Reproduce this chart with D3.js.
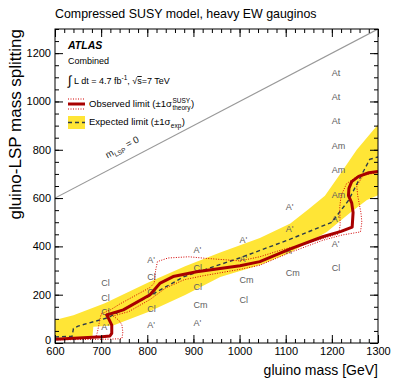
<!DOCTYPE html>
<html>
<head>
<meta charset="utf-8">
<script src="https://cdn.jsdelivr.net/npm/d3@7"></script>
<style>
body { margin: 0; background: #fff; }
svg text { font-family: "Liberation Sans", Arial, Helvetica, sans-serif; }
</style>
</head>
<body>
<div id="chart"></div>
<script>
// ---- data (gluino mass [GeV], mass splitting [GeV]) ----
const obsMass  = [600, 702, 719, 723, 723, 716, 712, 748, 806, 828, 856, 907, 1001, 1044, 1110, 1180, 1220, 1244, 1246, 1243, 1236, 1237, 1243, 1258, 1280, 1300]
const obsSplit = [15, 26, 29, 40, 74, 102, 116, 137, 200, 248, 275, 295, 320, 337, 390, 440, 462, 480, 540, 580, 610, 640, 668, 690, 705, 710]

const obsUpMass  = [600, 720, 745, 747, 745, 738, 726, 760, 806, 840, 880, 920, 1001, 1044, 1110, 1180, 1222, 1262, 1265, 1263, 1256, 1254, 1268, 1300]
const obsUpSplit = [13, 16, 18, 45, 75, 95, 112, 130, 180, 228, 262, 278, 305, 322, 375, 425, 447, 460, 500, 540, 610, 650, 695, 713]

const obsDnMass  = [600, 688, 692, 696, 700, 720, 741, 806, 815, 818, 822, 845, 890, 930, 1001, 1044, 1090, 1131, 1180, 1215, 1218, 1217, 1220, 1232, 1255, 1300]
const obsDnSplit = [18, 22, 45, 85, 120, 137, 162, 230, 248, 300, 337, 352, 357, 350, 340, 357, 385, 405, 432, 452, 490, 560, 610, 660, 690, 706]

const expMass  = [600, 637, 640, 650, 715, 800, 880, 1000, 1110, 1200, 1236, 1260, 1282, 1300]
const expSplit = [25, 28, 60, 70, 105, 190, 275, 352, 430, 500, 590, 680, 760, 770]

const bandUpMass  = [600, 640, 708, 802, 882, 958, 1044, 1110, 1150, 1185, 1218, 1254, 1300]
const bandUpSplit = [95, 115, 165, 250, 318, 375, 435, 495, 555, 610, 700, 800, 905]
const bandLoMass  = [600, 681, 683, 726, 802, 882, 958, 1044, 1110, 1189, 1239, 1276, 1300]
const bandLoSplit = [22, 22, 67, 72, 128, 199, 273, 323, 375, 460, 538, 592, 612]

// signal-region labels
const srText  = ["Cl", "Cl", "Cl", "A'",
                 "A'", "Cl", "Cl", "Cl", "A'",
                 "A'", "Cl", "Cl", "Cm", "A'",
                 "A'", "A'", "Cm", "Cl",
                 "A'", "A'", "A'", "Cm",
                 "At", "At", "At", "Am", "Am", "Am", "A'", "A'", "Cl"]
const srMass  = [700, 700, 700, 700,
                 800, 800, 800, 800, 800,
                 900, 900, 900, 900, 900,
                 1000, 1000, 1000, 1000,
                 1100, 1100, 1100, 1100,
                 1200, 1200, 1200, 1200, 1200, 1200, 1200, 1200, 1200]
const srSplit = [247, 187, 130, 66,
                 343, 274, 212, 140, 74,
                 385, 313, 233, 157, 83,
                 429, 347, 261, 178,
                 565, 471, 381, 289,
                 1120, 1020, 920, 815, 715, 615, 515, 410, 310]

const xMajor = [600, 700, 800, 900, 1000, 1100, 1200, 1300]
const yMajor = [0, 200, 400, 600, 800, 1000, 1200]
const xMinor = d3.range(600, 1301, 20)
const yMinor = d3.range(0, 1301, 50)

// ---- layout ----
const width = 399, height = 379
const plotL = 55, plotR = 378, plotT = 29, plotB = 343

const svg = d3.select("#chart").append("svg")
    .attr("width", width)
    .attr("height", height)

const x = d3.scaleLinear().domain([600, 1300]).range([plotL, plotR])
const y = d3.scaleLinear().domain([0, 1300]).range([plotB, plotT])

svg.append("clipPath").attr("id", "plot-clip")
  .append("rect")
    .attr("x", plotL).attr("y", plotT)
    .attr("width", plotR - plotL).attr("height", plotB - plotT)

const plot = svg.append("g").attr("clip-path", "url(#plot-clip)")

const pts = (ms, ss) => ms.map((m, i) => [m, ss[i]])
const line = d3.line().x(d => x(d[0])).y(d => y(d[1]))
const area = d3.line().x(d => x(d[0])).y(d => y(d[1])).curve(d3.curveLinearClosed)

// yellow band
const bandPts = pts(bandUpMass, bandUpSplit).concat(pts(bandLoMass, bandLoSplit).reverse())
plot.append("path")
    .datum(bandPts)
    .attr("fill", "#ffe536")
    .attr("stroke", "none")
    .attr("d", area)

// diagonal mLSP = 0
plot.append("path")
    .datum([[600, 600], [1300, 1300]])
    .attr("fill", "none")
    .attr("stroke", "#999")
    .attr("stroke-width", 1.2)
    .attr("d", line)

// signal region labels
plot.selectAll(".sr")
  .data(srText)
  .enter().append("text")
    .attr("class", "sr")
    .attr("x", (d, i) => x(srMass[i]))
    .attr("y", (d, i) => y(srSplit[i]))
    .attr("dy", "0.35em")
    .attr("font-size", 9)
    .attr("fill", "#5e5e5e")
    .text(d => d)

// expected
plot.append("path")
    .datum(pts(expMass, expSplit))
    .attr("fill", "none")
    .attr("stroke", "#2b3a4a")
    .attr("stroke-width", 1.4)
    .attr("stroke-dasharray", "4,3")
    .attr("d", line)

// theory +-1 sigma
;[pts(obsUpMass, obsUpSplit), pts(obsDnMass, obsDnSplit)].forEach(p => {
    plot.append("path")
        .datum(p)
        .attr("fill", "none")
        .attr("stroke", "#d40000")
        .attr("stroke-width", 1)
        .attr("stroke-dasharray", "1,1.5")
        .attr("d", line)
})

// observed
plot.append("path")
    .datum(pts(obsMass, obsSplit))
    .attr("fill", "none")
    .attr("stroke", "#a80000")
    .attr("stroke-width", 3)
    .attr("stroke-linejoin", "round")
    .attr("d", line)

// ---- axes ----
function addAxis(gen, transform, size, values, labels) {
    const g = svg.append("g")
        .attr("transform", transform)
        .call(gen.tickValues(values).tickSize(size).tickPadding(4)
            .tickFormat(labels ? d3.format("d") : ""))
    g.select(".domain").remove()
    g.attr("font-family", null).attr("font-size", null)
    g.selectAll("line").attr("stroke", "#000")
    g.selectAll("text").attr("font-size", 11).attr("fill", "#000")
    return g
}
addAxis(d3.axisBottom(x), `translate(0,${plotB})`, -8, xMajor, true)
addAxis(d3.axisBottom(x), `translate(0,${plotB})`, -4, xMinor, false)
addAxis(d3.axisTop(x), `translate(0,${plotT})`, -8, xMajor, false)
addAxis(d3.axisTop(x), `translate(0,${plotT})`, -4, xMinor, false)
const yAx = addAxis(d3.axisLeft(y), `translate(${plotL},0)`, -8, yMajor, true)
addAxis(d3.axisLeft(y), `translate(${plotL},0)`, -4, yMinor, false)
addAxis(d3.axisRight(y), `translate(${plotR},0)`, -8, yMajor, false)
addAxis(d3.axisRight(y), `translate(${plotR},0)`, -4, yMinor, false)
// ROOT nudges the zero label up so it clears the x labels
yAx.selectAll(".tick").filter(d => d === 0).select("text").attr("y", -3.5)

svg.append("rect")
    .attr("x", plotL).attr("y", plotT)
    .attr("width", plotR - plotL).attr("height", plotB - plotT)
    .attr("fill", "none")
    .attr("stroke", "#000")
    .attr("stroke-width", 1)

// titles
svg.append("text")
    .attr("x", plotL).attr("y", 18)
    .attr("font-size", 12.4)
    .text("Compressed SUSY model, heavy EW gauginos")

svg.append("text")
    .attr("x", plotR).attr("y", 375)
    .attr("text-anchor", "end")
    .attr("font-size", 14)
    .text("gluino mass [GeV]")

svg.append("text")
    .attr("transform", `translate(20.5,${plotT}) rotate(-90)`)
    .attr("text-anchor", "end")
    .attr("font-size", 17)
    .text("gluino-LSP mass splitting")

// mLSP = 0 label along the diagonal
const ang = Math.atan2(y(1300) - y(600), x(1300) - x(600)) * 180 / Math.PI
const mlsp = svg.append("text")
    .attr("transform", `translate(${x(714)},${y(764)}) rotate(${ang})`)
    .attr("font-size", 9.5)
    .attr("fill", "#222")
mlsp.append("tspan").text("m")
mlsp.append("tspan").attr("dy", 2.5).attr("font-size", 6.5).text("LSP")
mlsp.append("tspan").attr("dy", -2.5).text(" = 0")

// ---- legend ----
svg.append("text")
    .attr("x", 68).attr("y", 49)
    .attr("font-size", 10.5)
    .attr("font-weight", "bold")
    .attr("font-style", "italic")
    .text("ATLAS")

svg.append("text")
    .attr("x", 68).attr("y", 64)
    .attr("font-size", 9)
    .text("Combined")

const lumi = svg.append("text")
    .attr("x", 68).attr("y", 84)
    .attr("font-size", 9)
lumi.append("tspan").attr("font-size", 13).attr("dy", 1).text("\u222B")
lumi.append("tspan").attr("dy", -1).text(" L dt = 4.7 fb")
lumi.append("tspan").attr("dy", -4).attr("font-size", 6.5).text("-1")
lumi.append("tspan").attr("dy", 4).text(", \u221A")
lumi.append("tspan").attr("text-decoration", "overline").text("s")
lumi.append("tspan").text("=7 TeV")

// observed entry
const legObsY = 104
;[legObsY - 5, legObsY + 5].forEach(ly => {
    svg.append("line")
        .attr("x1", 68).attr("x2", 85).attr("y1", ly).attr("y2", ly)
        .attr("stroke", "#d40000").attr("stroke-width", 1)
        .attr("stroke-dasharray", "1,1.5")
})
svg.append("line")
    .attr("x1", 68).attr("x2", 85).attr("y1", legObsY).attr("y2", legObsY)
    .attr("stroke", "#a80000").attr("stroke-width", 3)

// expected entry
svg.append("rect")
    .attr("x", 68).attr("y", 116).attr("width", 17).attr("height", 13)
    .attr("fill", "#ffe536")
svg.append("line")
    .attr("x1", 68).attr("x2", 85).attr("y1", 122.5).attr("y2", 122.5)
    .attr("stroke", "#2b3a4a").attr("stroke-width", 1.4)
    .attr("stroke-dasharray", "4,3")

function sigmaEntry(ty, main, sup, sub) {
    const t = svg.append("text")
        .attr("x", 89).attr("y", ty)
        .attr("font-size", 9.5)
        .text(main)
    const w = t.node().getComputedTextLength()
    let extra = 0
    if (sup) {
        const s = svg.append("text")
            .attr("x", 89 + w + 0.5).attr("y", ty - 4)
            .attr("font-size", 6.5).text(sup)
        extra = Math.max(extra, s.node().getComputedTextLength())
    }
    const b = svg.append("text")
        .attr("x", 89 + w + 0.5).attr("y", ty + 2.5)
        .attr("font-size", 6.5).text(sub)
    extra = Math.max(extra, b.node().getComputedTextLength())
    svg.append("text")
        .attr("x", 89 + w + extra + 1).attr("y", ty)
        .attr("font-size", 9.5)
        .text(")")
}
sigmaEntry(107, "Observed limit (\u00B11\u03C3", "SUSY", "theory")
sigmaEntry(125, "Expected limit (\u00B11\u03C3", null, "exp")
</script>
</body>
</html>
